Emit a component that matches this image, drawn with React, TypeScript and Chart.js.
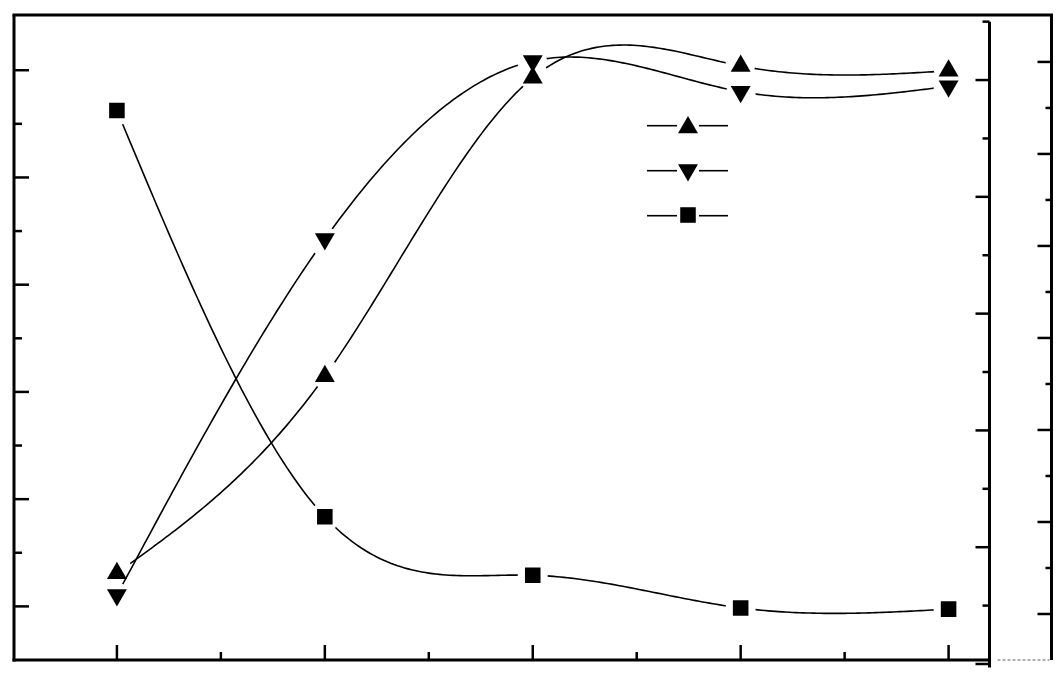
import React, { useEffect, useRef } from "react";
import { Chart, registerables } from "chart.js";
import { drawPoint } from "chart.js/helpers";

Chart.register(...registerables);

// ---- data ----
const temperatures = [200, 250, 300, 350, 400];
const seriesUp = [6.2, 42.9, 98.6, 100.8, 99.9];
const seriesDown = [2.1, 68.5, 101.7, 96.0, 97.0];
const seriesSquare = [47.4, 12.6, 7.6, 4.8, 4.7];

// ---- tick values ----
const xMajor = [200, 250, 300, 350, 400];
const xMinor = [225, 275, 325, 375];
const leftMajor = [0, 20, 40, 60, 80, 100];
const leftMinor = [10, 30, 50, 70, 90];
const innerMajor = [0, 10, 20, 30, 40, 50];
const innerMinor = [5, 15, 25, 35, 45, 55];
const outerMajor = [0, 20, 40, 60, 80, 100, 120];
const outerMinor = [10, 30, 50, 70, 90, 110];

const HALO = 15;
const LINE_WIDTH = 1.6;

function haloCenter(el: any) {
  const o = el.options || {};
  let y = el.y;
  if (o.pointStyle === "triangle") {
    y += (o.rotation === 180 ? 1 : -1) * (o.radius / 4);
  }
  return { x: el.x, y };
}

// natural cubic spline second derivatives
function splineM(xs: number[], ys: number[]): number[] {
  const n = xs.length;
  const M = new Array(n).fill(0);
  if (n < 3) return M;
  const a: number[] = [], b: number[] = [], c: number[] = [], d: number[] = [];
  for (let i = 1; i < n - 1; i++) {
    const h0 = xs[i] - xs[i - 1];
    const h1 = xs[i + 1] - xs[i];
    a.push(h0);
    b.push(2 * (h0 + h1));
    c.push(h1);
    d.push(6 * ((ys[i + 1] - ys[i]) / h1 - (ys[i] - ys[i - 1]) / h0));
  }
  const m = b.length;
  for (let i = 1; i < m; i++) {
    const w = a[i] / b[i - 1];
    b[i] -= w * c[i - 1];
    d[i] -= w * d[i - 1];
  }
  const sol = new Array(m).fill(0);
  sol[m - 1] = d[m - 1] / b[m - 1];
  for (let i = m - 2; i >= 0; i--) sol[i] = (d[i] - c[i] * sol[i + 1]) / b[i];
  for (let i = 0; i < m; i++) M[i + 1] = sol[i];
  return M;
}

const splinePlugin = {
  id: "splinePlugin",
  beforeDatasetsDraw(chart: any) {
    const ctx: CanvasRenderingContext2D = chart.ctx;
    const metas = chart.getSortedVisibleDatasetMetas();
    for (let k = metas.length - 1; k >= 0; k--) {
      const meta = metas[k];
      const pts = meta.data;
      const xs = pts.map((p: any) => p.x);
      const ys = pts.map((p: any) => p.y);
      const M = splineM(xs, ys);
      ctx.save();
      ctx.beginPath();
      ctx.rect(0, 0, chart.width, chart.height);
      for (const el of pts) {
        const c = haloCenter(el);
        ctx.moveTo(c.x + HALO, c.y);
        ctx.arc(c.x, c.y, HALO, 0, Math.PI * 2);
      }
      ctx.clip("evenodd");
      const ds = chart.data.datasets[meta.index];
      ctx.strokeStyle = ds.borderColor || "#000";
      ctx.lineWidth = LINE_WIDTH;
      ctx.lineJoin = "round";
      ctx.beginPath();
      ctx.moveTo(xs[0], ys[0]);
      for (let i = 0; i < xs.length - 1; i++) {
        const h = xs[i + 1] - xs[i];
        const steps = 60;
        for (let s = 1; s <= steps; s++) {
          const x = xs[i] + (h * s) / steps;
          const A = (xs[i + 1] - x) / h;
          const B = (x - xs[i]) / h;
          const y =
            A * ys[i] + B * ys[i + 1] + ((A * A * A - A) * M[i] + (B * B * B - B) * M[i + 1]) * (h * h) / 6;
          ctx.lineTo(x, y);
        }
      }
      ctx.stroke();
      ctx.restore();
    }
  },
};

function seg(ctx: CanvasRenderingContext2D, x1: number, y1: number, x2: number, y2: number) {
  ctx.beginPath();
  ctx.moveTo(x1, y1);
  ctx.lineTo(x2, y2);
  ctx.stroke();
}

const framePlugin = {
  id: "framePlugin",
  beforeDatasetsDraw(chart: any) {
    const ctx: CanvasRenderingContext2D = chart.ctx;
    const ca = chart.chartArea;
    const xs = chart.scales.x;
    const yl = chart.scales.y;
    const yi = chart.scales.y1;
    const yo = chart.scales.y2;
    const innerX = ca.right - 62;
    ctx.save();
    ctx.strokeStyle = "#000";
    ctx.lineCap = "butt";
    ctx.lineWidth = 3;
    // frame
    seg(ctx, ca.left - 1.5, ca.top, ca.right + 1.5, ca.top);
    seg(ctx, ca.left, ca.top, ca.left, ca.bottom + 1.5);
    seg(ctx, ca.left - 1.5, ca.bottom, innerX, ca.bottom);
    seg(ctx, ca.right, ca.top, ca.right, ca.bottom);
    // inner axis
    seg(ctx, innerX, yi.getPixelForValue(55), innerX, yi.getPixelForValue(-0.3));
    ctx.lineWidth = 2.5;
    for (const v of leftMajor) { const y = yl.getPixelForValue(v); seg(ctx, ca.left, y, ca.left + 15, y); }
    for (const v of leftMinor) { const y = yl.getPixelForValue(v); seg(ctx, ca.left, y, ca.left + 8, y); }
    for (const v of xMajor) { const x = xs.getPixelForValue(v); seg(ctx, x, ca.bottom, x, ca.bottom - 15); }
    for (const v of xMinor) { const x = xs.getPixelForValue(v); seg(ctx, x, ca.bottom, x, ca.bottom - 8); }
    for (const v of innerMajor) { const y = yi.getPixelForValue(v); seg(ctx, innerX - 14, y, innerX, y); }
    for (const v of innerMinor) { const y = yi.getPixelForValue(v); seg(ctx, innerX - 7, y, innerX, y); }
    for (const v of outerMajor) { const y = yo.getPixelForValue(v); seg(ctx, ca.right - 14, y, ca.right, y); }
    for (const v of outerMinor) { const y = yo.getPixelForValue(v); seg(ctx, ca.right - 6, y, ca.right, y); }
    ctx.strokeStyle = "#b0b0b0";
    ctx.lineWidth = 2;
    ctx.setLineDash([3, 2]);
    seg(ctx, innerX + 8, ca.bottom, ca.right - 2, ca.bottom);
    ctx.restore();
  },
};

const legendPlugin = {
  id: "legendPlugin",
  afterDraw(chart: any) {
    const ctx: CanvasRenderingContext2D = chart.ctx;
    const ca = chart.chartArea;
    const rows = [
      { ds: 0, lineY: ca.top + 110.7, markY: ca.top + 112.4 },
      { ds: 1, lineY: ca.top + 155.7, markY: ca.top + 155.1 },
      { ds: 2, lineY: ca.top + 200.7, markY: ca.top + 200 },
    ];
    const x0 = ca.left + 633;
    const xm = ca.left + 674;
    const x1 = ca.left + 714;
    ctx.save();
    for (const r of rows) {
      const ds = chart.data.datasets[r.ds];
      ctx.strokeStyle = "#000";
      ctx.lineWidth = LINE_WIDTH;
      seg(ctx, x0, r.lineY, xm - 11, r.lineY);
      seg(ctx, xm + 11, r.lineY, x1, r.lineY);
      ctx.fillStyle = "#000";
      drawPoint(
        ctx,
        { pointStyle: ds.pointStyle, rotation: ds.pointRotation || 0, radius: ds.pointRadius, borderWidth: 0 },
        xm,
        r.markY
      );
    }
    ctx.restore();
  },
};

export default function App() {
  const ref = useRef<HTMLCanvasElement>(null);
  useEffect(() => {
    document.body.style.margin = "0";
    const common = {
      borderColor: "#000",
      borderWidth: LINE_WIDTH,
      pointBackgroundColor: "#000",
      pointBorderWidth: 0,
      showLine: false,
      fill: false,
    };
    const chart = new Chart(ref.current as HTMLCanvasElement, {
      type: "line",
      data: {
        datasets: [
          {
            ...common,
            label: "up",
            yAxisID: "y",
            data: temperatures.map((t, i) => ({ x: t, y: seriesUp[i] })),
            pointStyle: "triangle",
            pointRadius: 11.5,
            pointRotation: 0,
          },
          {
            ...common,
            label: "down",
            yAxisID: "y",
            data: temperatures.map((t, i) => ({ x: t, y: seriesDown[i] })),
            pointStyle: "triangle",
            pointRadius: 11.5,
            pointRotation: 180,
          },
          {
            ...common,
            label: "square",
            yAxisID: "y1",
            data: temperatures.map((t, i) => ({ x: t, y: seriesSquare[i] })),
            pointStyle: "rect",
            pointRadius: 11,
            pointRotation: 0,
          },
        ],
      } as any,
      options: {
        animation: false,
        responsive: false,
        devicePixelRatio: 1,
        events: [],
        layout: { padding: { left: 14, top: 15, right: 11, bottom: 14 } },
        plugins: { legend: { display: false }, tooltip: { enabled: false } },
        scales: {
          x: { type: "linear", min: 175.25, max: 424.75, display: false },
          y: { type: "linear", min: -10, max: 110.3, display: false },
          y1: { type: "linear", min: 0.342, max: 55.57, display: false, position: "right" },
          y2: { type: "linear", min: -10, max: 130.2, display: false, position: "right" },
        },
      } as any,
      plugins: [framePlugin, splinePlugin, legendPlugin],
    });
    return () => chart.destroy();
  }, []);
  return (
    <div style={{ width: 1063, height: 674, background: "#fff" }}>
      <canvas ref={ref} width={1063} height={674} style={{ display: "block" }} />
    </div>
  );
}
